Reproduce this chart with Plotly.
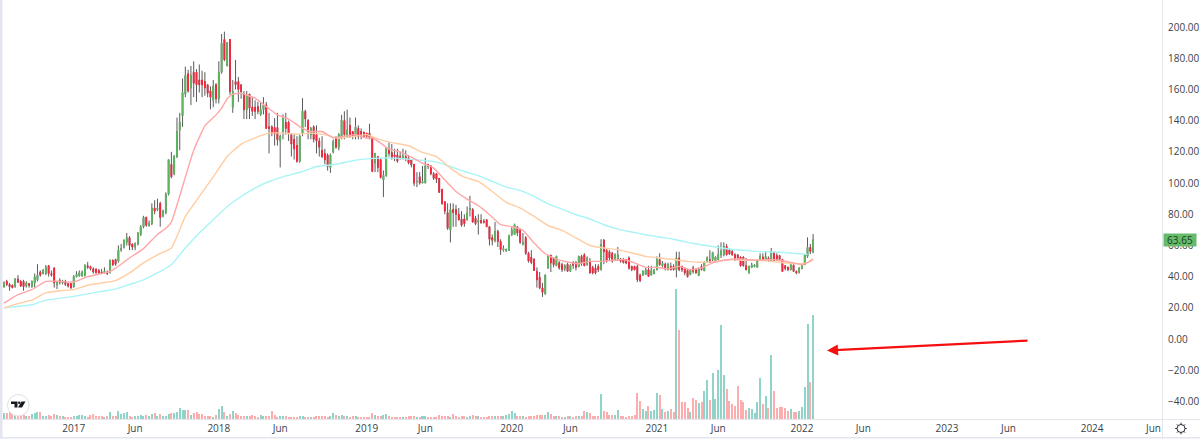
import math
import pandas as pd
import plotly.graph_objects as go

start_date = "2016-07-11"

opens = [33.5,37,35,34.5,33.5,38.5,37,37,34,35.5,
33.5,36,38,43,42,42,47,42,45.5,35,
37.5,36,37,35.5,35.5,33.5,40,40.5,40.5,41,
47,46.5,45,45,44,43,42.5,43,43,50.5,
51,50,57,59,62,65,61,59,61,67,
72,78,73,74,84,83,87,79,81,93,
112,106,117,134,143,157,170,161,171,171,
166,166,165,163,159,153,163,154,171,192,
175,192,148.6,165,165,163,157,147,157,148.6,
148.6,149,144,147,150,136,136,135.6,135.6,127,
133,139,139,131,128,124,114,132,146,140,
131,136,131,127,121,119,118,110,120,129,
123,129,140,130,137,133,130,135,133,132.5,
132,132,129,113,117,115,102,105,122,119.5,
118,118,117,116,117,116,115,112,101,104,
100,100,112,111,106,106,103,96,88,81,
70,83,83,80,77,77,76.5,83,83,77.5,
75,76,75.5,76.5,72,65,63,69,62.6,57,
56.5,57,67,67,72,70,61,65,55,52.5,
51,43.4,39.6,32.8,29,45.6,53.7,52,47,48.8,
47.7,45,48,43.5,49,49,46.5,53,54,48,
50,46,45.5,46.6,44.5,63.5,57,56,55,51,
51,51.3,51,51,52,46.6,46.6,46.5,41,41,
41.5,44.5,41,42,44.5,51,47,48,44.5,46.6,
46.6,44.5,52,46.6,45,44,41.3,45.6,44.5,40.7,
46.6,43.8,50,50.9,51,49.8,51,54,54,59.5,
57.3,56.2,54,54,52.6,52.6,47,42.4,46,46.5,
46,50.5,52.6,50.5,52,49.8,55.8,53.5,53.5,51,
47,46,44.5,47.3,43.4,42.8,45.2,47.7,53,58.8,
55.8]
highs = [37,38,36,35,39,41,38,38,37,36,
37.5,42,48,44,45,47.5,47.5,44,46,37,
39,38,38,36,36,41,43.5,44,44,48,
49.5,47,46,45,45,45,46,44,51,51,
51.5,60,61,64,68,66,61,62,68.5,73,
79,78.5,76,87,89,90,88,83,94,115,
120,118,142,145,167,174.6,172.5,175,178,173,
176,172,171,163,162,166,164,178,195.5,197,
190,192,166,178.9,168,163,159,159,157,155,
153,152,152,155,152,145,137,141.6,145,131,
144,145,140,132,131,130,131,154.4,147,141,
136,137,137,129,130,122,119,119,128,130,
132,143.7,146,147,142,133,142,137,135,133,
132,138,130,119,117,116,108,123,126,125,
122,122,120,122,121,118,113,106,107,107,
111,116,112,107,107,104,96,88,87,87,
87,87,86,84,82,80,85,91.8,84,79,
80,80,77,77,72,67,75,70,64,60,
58,67,72,74,72,71,68,66,56,57,
52,46,43,36,41.5,54,54,52.5,53.5,50,
49,48,49,48,50,50,53.5,54,55,53,
52,47,48,48,64,64,58,57,56,55,
59,52,52,51,53,47,47,47.5,42,44,
46,47,47,45,53,55,50,49,49,49,
48,56,56,47,46,45,45,47,45,46,
48,50,53,57,56,53,60,62,62,61,
58,57,55,54,53,53,52,47,49,48,
51,55,55,56,53,58.4,56,55,54,51.5,
47.5,46.5,48,48,44,46,48,54.5,65.2,61,
67.3]
lows = [33,34,31,32.5,33,36,33.5,31,33,33,
33,33,37,40,41.5,41,40,40,33,32,
35,35,34,33,32,33,39.5,40,40,40,
45,44,42,42,41.5,42,42,41,42,47,
47,49,56,58,60,57,57,57,60,66,
71,72,72,73,80,82,72,78,80,92,
103,105,116,121,136,155,158,150,155,152,
158,155,156,155,147.3,148.6,151,151,170,178,
175,156.5,145,160,152,154,141,141,141,143,
141,144,143,144,135,119,130,124,124,110,
128,131,127,117,115,113,113,130,136,128,
128,126,119,117,116,112,108,106.5,119,122,
121,128,128,129,129,128,128,128,128,129,
129,128,107,107,107,103,91,104,117,115,
114,113,115,115,114,112,110,98,97.4,99,100,
100,109,105,102,100,94,86,80,70,62,
72,72,76,72,72,76,78.6,74.7,73,67,
74,74,71.8,60,60,62,59,54,56,56,
56.5,66,67,66,61,60,54,49,48,44,
33,32,27,28.5,45,43,46,47,44.5,43,
43.5,43,43,45,44,46,47,47,47,42,
41.5,41.5,43,44,48,49,50,49,50,50,
49,48.5,48,44.5,43.5,44,36.5,36.5,40.5,41,
40,41,41.5,44,47,46,44,44,44,44,
39.5,43.5,43,41,39.5,41,42,42,40.5,44,
43.5,49,49,49.8,49.5,50.5,52,53,53.5,54,
53.5,50,50.5,46.5,46.5,44,42,45.5,46,46,
50,50,50,49.5,49.5,49.5,50,50.5,43,44,
43.5,44,43,41.5,42,44.8,47.5,52,54.5,
55]
closes = [36,35,33.5,33,38.5,36.5,34,33.5,36,34.5,
37,40,41,41,44,46,42,41,36,37,
36.5,37,35,34,33,40,41.5,42.5,43,47,
46,45,43,42.5,42.5,42,43.5,42,50.5,47.5,
48,57,58,63,65,60,59,61,68,72,
78,73,74,84,82,84,78,82,93,115,
104,117,133,139,158,169,159,169,164,163,
163,163,161,157.6,155,162,154,171,189.6,179,
190,158.6,158.6,163,160,158.6,147,156,148,146,
146,146,147,150,135,135,132,131.5,127.7,130,
142,135,132,125,122,114,130,146,141,133,
135,128,127,123,117,115,110.5,118,126.6,123,
131,140.5,131,134,130,130,136,130,130,130,
130,129,107.5,119,110,103.5,105,122,119,116,
117,114,116,117.5,116,113,111.7,100,101,100,101,
111,111,106,103,102.5,94,87,82,71,83,
81,80,76.5,73,74,80.8,83.5,75,74,76,
74.5,75,72,64,63.3,69,62.6,57.3,58,57.3,
66,70,73.3,68,62,62,55,50,49,44,
38,32.8,30,41,53.7,48.8,47.7,53,45.6,44.5,
47,43.5,47.3,47.3,46,53,48.8,47,52,42.4,
42.4,42.4,44.5,60.5,56,50,52,50,54,54,
49.8,49,48.8,45.5,44.5,44.5,38,37.5,43.5,44.5,
40.2,44,44,51,47.7,48.5,45,47.7,44.5,44.5,
52,44.5,44.5,42.5,40,44.5,43.4,42.4,45,44.5,
49,52,49.2,55.5,52.6,54,56.5,59.5,54,54.5,
54,51,52,47,47,44.5,46.6,47.5,47.5,50.5,
53,50.5,53,50.5,55.8,50.5,51,51,43.4,45.2,
44.5,47.7,43.4,42.4,45.6,47.7,54,58.8,56.2,
63.65]
volumes = [6.5,6,7,6,4,3,4,4,3,3,5,6,7,7,3,3,4,3,5,4,3,3,2,2,2,3,
3,4,4,3,2,4,5,3,3,3,2,3,7,3,3,8,5,6,7,3,2,3,3,4,3,
4,3,5,6,3,5,3,3,5,6,6,7,11,9,9,9,4,6,7,5,5,3,3,3,2,
4,10,13,7,3,5,8,6,4,3,3,3,3,4,3,2,4,3,3,3,8,4,2,3,3,
3,2,2,2,2,3,3,2,2,2,2,3,3,3,3,2,3,6,4,3,4,3,3,2,3,
3,2,2,2,2,2,6,4,3,3,4,5,3,2,2,2,2,2,2,3,3,3,2,2,3,
3,2,2,2,2,4,3,3,3,2,5,3,2,3,3,2,3,4,3,3,2,2,2,3,3,
3,3,3,3,4,5,8,6,3,3,3,2,3,3,3,4,4,4,4,7,5,3,3,3,2,2,3,3,2,3,3,
3,8,7,6,3,3,3,25,8,7,4,4,4,9,3,3,2,3,3,4,
26,18,10,8,13,8,9,26,24,10,7,8,10,7,130,89,17,17,11,7,
21,19,16,17,28,39,19,46,20,49,94,44,30,18,15,13,33,19,17,9,
11,10,6,17,41,15,23,11,64,28,11,12,12,11,8,10,7,7,8,12,
32,95,37,104]

ma_fast_idx = [0,5,10,15,20,25,30,35,38,40,45,50,55,58,60,64,68,72,76,78,80,82,85,90,94,98,102,107,110,114,118,122,126,130,132,135,138,142,146,150,154,158,162,166,170,174,178,182,186,190,194,198,202,206,210,214,218,222,226,230,234,238,242,246,250,254,258,262,266,270,274,278,282,286,288,290]
ma_fast = [23,28.5,31.7,37,37,36.6,40,42,43.4,45.5,52,58,67,71,75,97.8,121,136.7,143.7,148,154,157,157.5,154.4,149,143.7,141,135,133,133,129,130,131,128.7,129,125.6,121.7,120,116.6,112.8,109.6,102,94.6,89.7,85.5,79.7,73.3,72,69.7,61.6,54.7,51.3,49.4,48.3,49.8,49.8,50.5,51,48.8,46,46,45,46.6,44.5,45.6,48.8,50.5,51.3,51,50.5,51,50.5,49.2,47.7,49.2,51.3]
ma_mid_idx = [0,5,10,15,20,25,30,35,40,45,50,55,60,65,70,75,80,85,90,95,100,105,110,115,120,125,130,135,140,145,150,155,160,165,170,175,180,185,190,195,200,205,210,215,220,225,230,235,240,245,250,255,260,265,270,275,280,285,288,290]
ma_mid = [20,22.7,25,29.6,31,31.7,34.5,36,37.5,42.4,48.8,54,58.4,78.6,91.4,104,117,125,129,132,132,131.3,132,131,128.7,129.8,131,127.7,125.6,123.9,119.6,117,109.6,103.8,101,94.6,87.6,84,78.6,72.7,69.7,64.8,60,58.4,57.3,55.2,53,52,51,49.8,49.2,49.8,50.9,50.5,50.5,49.8,48.8,48.3,48.8,50.9]
ma_slow_idx = [0,10,15,25,35,40,45,50,55,60,65,70,75,80,85,90,95,100,107,112,118,125,130,135,140,150,155,160,165,170,175,180,185,190,195,200,205,209,215,220,225,230,235,240,245,255,260,265,270,275,280,285,288]
ma_slow = [20,22,25,27.4,30.6,32,35,38,42.4,47.7,58.4,68,76.5,85,91.4,96.8,101,104,107.4,110.6,111.7,114.3,115.5,116,116,114.5,113.4,110.6,107.4,104.7,101,97.4,95.3,91.4,86.7,83.3,79.7,77.6,73.3,70.5,68.6,66.9,65.4,64,62,59,57.7,56.9,56.2,55.8,55.4,54.7,54.3]

price_ticks = [200,180,160,140,120,100,80,60,40,20,0,-20,-40]
time_ticks = ["2017-01-02","2017-06-05","2018-01-01","2018-06-04","2019-01-07","2019-06-03","2020-01-06","2020-06-01","2021-01-04","2021-06-07","2022-01-03","2022-06-06","2023-01-02","2023-06-05","2024-01-01","2024-06-03"]
time_labels = ["2017","Jun","2018","Jun","2019","Jun","2020","Jun","2021","Jun","2022","Jun","2023","Jun","2024","Jun"]
last_price = 63.65

assert len(opens) == len(highs) == len(lows) == len(closes) == len(volumes), (len(opens), len(highs), len(lows), len(closes), len(volumes))

dates = pd.date_range(start_date, periods=len(opens), freq="7D")
WEEK = 7 * 86400000
UP, DOWN = "#5cb85f", "#f7283f"
VUP, VDOWN = "#8fd3c9", "#fcaeae"
W, H = 1200, 439
R_PX, B_PX = 38, 19.5
PW, PH = W - R_PX, H - B_PX

def xp(px):
    return px / PW

def yp(py):
    return 1 - py / PH

fig = go.Figure()
fig.add_bar(
    x=dates, y=volumes, yaxis="y2", width=WEEK * 0.72,
    marker=dict(color=[VUP if c >= o else VDOWN for o, c in zip(opens, closes)], line_width=0),
    name="Volume", showlegend=False, hoverinfo="skip",
)
for name, idx, vals, col in [
    ("MA slow", ma_slow_idx, ma_slow, "#a8f4f6"),
    ("MA mid", ma_mid_idx, ma_mid, "#ffcda3"),
    ("MA fast", ma_fast_idx, ma_fast, "#ffa6a6"),
]:
    fig.add_scatter(x=dates[idx], y=vals, mode="lines", name=name,
                    line=dict(color=col, width=1.4, shape="spline", smoothing=0.4), showlegend=False)
WICK = "#5a5a5a"
fig.add_candlestick(
    x=dates, open=opens, high=highs, low=lows, close=closes, whiskerwidth=0,
    increasing=dict(line=dict(color=WICK, width=1), fillcolor=WICK),
    decreasing=dict(line=dict(color=WICK, width=1), fillcolor=WICK),
    showlegend=False, name="Wicks",
)
body_hi = [max(o, c) for o, c in zip(opens, closes)]
body_lo = [min(o, c) for o, c in zip(opens, closes)]
fig.add_candlestick(
    x=dates, open=opens, high=body_hi, low=body_lo, close=closes, whiskerwidth=0,
    increasing=dict(line=dict(color=UP, width=1), fillcolor=UP),
    decreasing=dict(line=dict(color=DOWN, width=1), fillcolor=DOWN),
    showlegend=False, name="Bodies", hoverinfo="skip",
)

GRID = "#e4e6ed"
INK = "#16181f"
shapes = [
    dict(type="rect", xref="paper", yref="paper", x0=xp(0), x1=xp(2.5), y0=yp(H), y1=yp(0), fillcolor="#e3e5f0", line_width=0),
    dict(type="rect", xref="paper", yref="paper", x0=xp(0), x1=xp(W), y0=yp(H), y1=yp(437.5), fillcolor="#e3e5f0", line_width=0),
    dict(type="line", xref="paper", yref="paper", x0=xp(0), x1=xp(W), y0=yp(420), y1=yp(420), line=dict(color=GRID, width=1)),
    dict(type="line", xref="paper", yref="paper", x0=xp(1162.5), x1=xp(1162.5), y0=yp(0), y1=yp(437.5), line=dict(color=GRID, width=1)),
    dict(type="circle", xref="paper", yref="paper", x0=xp(7.5), x1=xp(29), y0=yp(416.5), y1=yp(395), fillcolor="white", line=dict(color="#e0e0e4", width=1)),
    dict(type="path", xref="paper", yref="paper", fillcolor=INK, line_width=0,
         path=f"M {xp(11)} {yp(402)} L {xp(17.5)} {yp(402)} L {xp(17.5)} {yp(408)} L {xp(14.5)} {yp(408)} L {xp(14.5)} {yp(404.5)} L {xp(11)} {yp(404.5)} Z"),
    dict(type="circle", xref="paper", yref="paper", fillcolor=INK, line_width=0, x0=xp(18), x1=xp(20.5), y0=yp(404.5), y1=yp(402)),
    dict(type="path", xref="paper", yref="paper", fillcolor=INK, line_width=0,
         path=f"M {xp(21.5)} {yp(402)} L {xp(25.5)} {yp(402)} L {xp(22)} {yp(408)} L {xp(18)} {yp(408)} Z"),
    dict(type="circle", xref="paper", yref="paper", x0=xp(1177), x1=xp(1185), y0=yp(433), y1=yp(425), fillcolor="white", line=dict(color="#2a2e39", width=1)),
]
for k in range(8):
    a = math.pi * k / 4
    shapes.append(dict(type="line", xref="paper", yref="paper",
                       x0=xp(1181 + 4 * math.cos(a)), y0=yp(429 + 4 * math.sin(a)),
                       x1=xp(1181 + 5.8 * math.cos(a)), y1=yp(429 + 5.8 * math.sin(a)),
                       line=dict(color="#2a2e39", width=1)))

annotations = [
    dict(xref="paper", yref="y", x=1.0, xanchor="left", xshift=1, y=last_price, yanchor="middle",
         text=f"{last_price:.2f}", showarrow=False, bgcolor="#66bb6a", borderpad=1,
         width=30, height=10, font=dict(family="Open Sans", size=10, color="#1c3d20")),
    dict(xref="paper", yref="paper", axref="pixel", ayref="pixel", x=xp(827), y=yp(351),
         ax=1029 - 827, ay=341 - 351, text="", showarrow=True, arrowhead=2, arrowsize=1.0, arrowwidth=2.2,
         arrowcolor="#f50f0f"),
]

fig.update_layout(
    width=W, height=H, margin=dict(l=0, r=R_PX, t=0, b=B_PX),
    paper_bgcolor="white", plot_bgcolor="white", bargap=0, boxgap=0.62, showlegend=False,
    font=dict(family="Open Sans", size=10, color="#3b3f4a"),
    xaxis=dict(
        type="date", range=[dates[0] - pd.Timedelta(days=10), dates[0] + pd.Timedelta(weeks=415.05)],
        tickmode="array", tickvals=time_ticks, ticktext=time_labels, showgrid=False, zeroline=False,
        rangeslider=dict(visible=False), ticks="", showline=False, ticklabelstandoff=2,
        tickfont=dict(size=10, color="#3b3f4a"),
    ),
    yaxis=dict(side="right", range=[-51.2, 217.3], tickmode="array", tickvals=price_ticks,
               ticktext=[f"{t:.2f}".replace("-", "−") for t in price_ticks], showgrid=False, zeroline=False,
               ticks="", showline=False, ticklabelstandoff=5, tickfont=dict(size=10, color="#3b3f4a")),
    yaxis2=dict(overlaying="y", range=[0, PH], visible=False, fixedrange=True),
    shapes=shapes, annotations=annotations,
)
fig.write_html("out.html", config={"displayModeBar": False},
               post_script="document.body.style.margin='0';document.body.style.overflow='hidden';")
